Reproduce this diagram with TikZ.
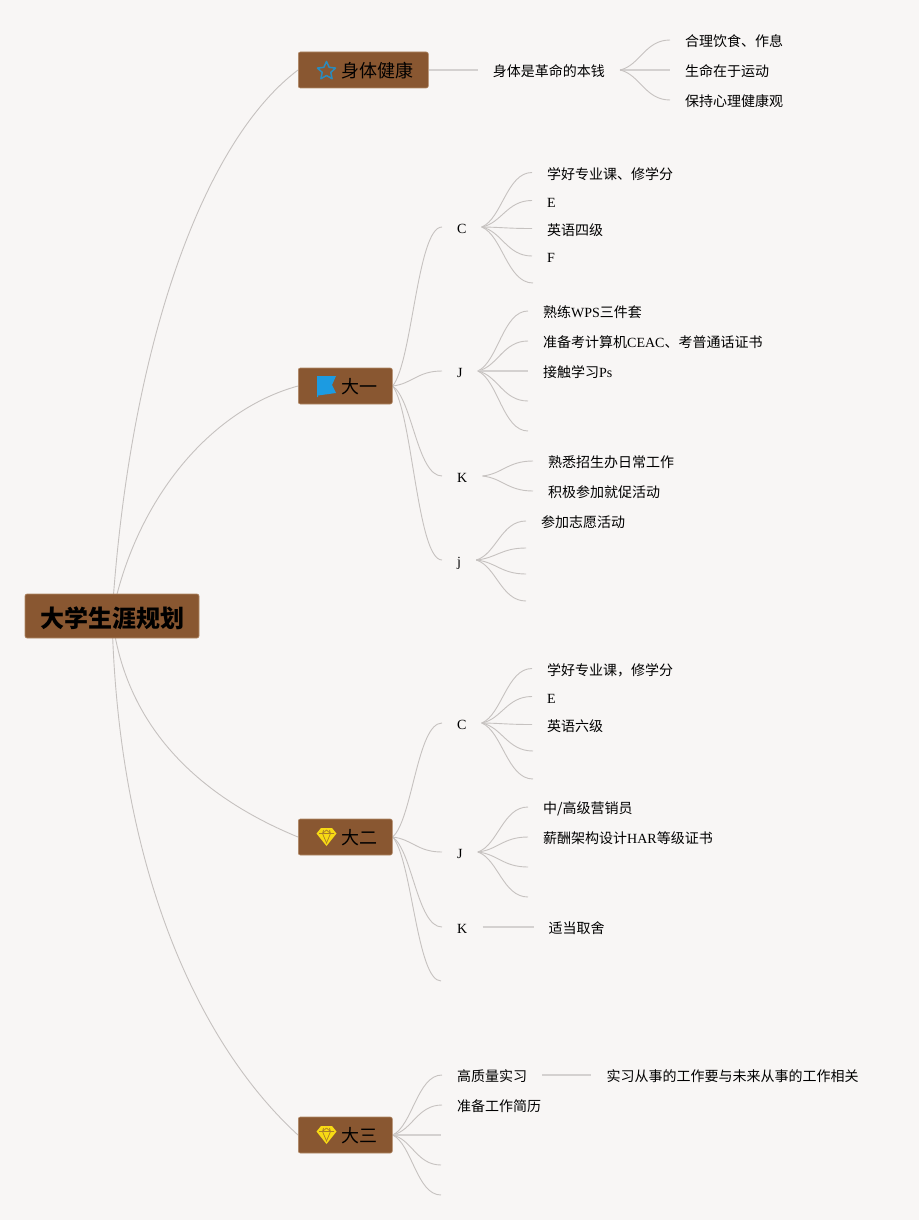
\documentclass[tikz,border=0pt]{standalone}
\usepackage{fontspec}
\setmainfont{Liberation Serif}
\newfontfamily\cjk{Noto Sans CJK SC}
\usetikzlibrary{shapes.geometric, positioning, calc, backgrounds}
\definecolor{pagebg}{RGB}{248,246,245}
\definecolor{boxbrown}{RGB}{137,87,49}
\definecolor{boxedge}{RGB}{176,136,102}
\definecolor{linkgray}{RGB}{198,194,192}
\definecolor{starblue}{RGB}{42,140,190}
\definecolor{flagblue}{RGB}{28,155,225}
\definecolor{gemyellow}{RGB}{247,218,20}
\tikzset{
  rootbox/.style={
    rectangle, rounded corners=2pt, draw=boxedge, fill=boxbrown, line width=0.6pt,
    minimum width=174pt, minimum height=44pt, inner sep=0pt,
    text height=24pt, text depth=2pt,
    font=\cjk\bfseries\fontsize{24}{28}\selectfont, text=black
  },
  topic/.style={
    rectangle, rounded corners=2pt, draw=boxedge, fill=boxbrown, line width=0.6pt,
    minimum height=36pt, inner xsep=15pt, inner ysep=0pt, anchor=west,
    text height=17.6pt, text depth=2pt,
    font=\cjk\fontsize{18}{22}\selectfont, text=black
  },
  leaf/.style={
    rectangle, inner xsep=15pt, inner ysep=0pt, anchor=west,
    text height=15pt, text depth=2pt,
    font=\fontsize{14}{16}\selectfont, text=black
  },
  link/.style={
    draw=linkgray, line width=0.9pt,
    to path={let \p1=(\tikztostart), \p2=(\tikztotarget) in
      .. controls ({0.6*\x1+0.4*\x2},{0.85*\y1+0.15*\y2}) and ({0.5*\x1+0.5*\x2},\y2) .. (\tikztotarget)}
  },
  straightlink/.style={draw=linkgray!75, line width=1.3pt},
  staricon/.style={
    star, star points=5, star point ratio=2.1, minimum size=19pt, inner sep=0pt,
    draw=starblue, line width=1.5pt, line join=round
  },
  flagicon/.pic={
    \fill[flagblue] (-9.5,-10) -- (9.5,-10) -- (5.5,-1) -- (9.5,7) -- (-8.5,9.5) -- (-8.5,11)
      -- (-9.5,11) -- cycle;
  },
  gemicon/.pic={
    \fill[gemyellow] (-5.5,-9) -- (5.5,-9) -- (10,-3.5) -- (0,9) -- (-10,-3.5) -- cycle;
    \draw[boxbrown!70!gemyellow, line width=0.7pt] (-7.5,-3.5) -- (7.5,-3.5)
      (-3,-7) -- (-4,-3.5) -- (0,6) -- (4,-3.5) -- (3,-7) (0,-7) -- (-4,-3.5) (0,-7) -- (4,-3.5);
  }
}
\begin{document}
\begin{tikzpicture}[x=1pt, y=-1pt]
  \path[use as bounding box] (0,0) rectangle (919,1220);

  \node[rootbox] (root) at (112,616) {大学生涯规划};

  \node[topic] (health) at (298,70) {\hspace{28pt}身体健康};
  \node[staricon] (healthicon) at (326.5,71) {};
  \node[leaf, right=49pt of health] (motto) {{\cjk 身体是革命的本钱}};
  \node[leaf, right=50pt of motto] (sport) {{\cjk 生命在于运动}};
  \node[leaf] (diet) at (670,40) {{\cjk 合理饮食、作息}};
  \node[leaf] (mind) at (670,100) {{\cjk 保持心理健康观}};

  \node[topic] (one) at (298,386) {\hspace{28pt}大一};
  \pic at (326.5,386) {flagicon};
  \node[leaf] (onec) at (442,227) {C};
  \node[leaf] (onecstudy) at (532,172.5) {{\cjk 学好专业课、修学分}};
  \node[leaf] (onece) at (532,200.5) {E};
  \node[leaf] (onecfour) at (532,228.5) {{\cjk 英语四级}};
  \node[leaf] (onecf) at (532,256) {F};
  \coordinate (onecend) at (533,283);
  \node[leaf] (onej) at (442,371) {J};
  \node[leaf] (onejwps) at (528,311) {{\cjk 熟练}WPS{\cjk 三件套}};
  \node[leaf] (onejceac) at (528,341) {{\cjk 准备考计算机}CEAC{\cjk 、考普通话证书}};
  \node[leaf] (onejps) at (528,371) {{\cjk 接触学习}Ps};
  \coordinate (onejfour) at (528,401);
  \coordinate (onejfive) at (528,431);
  \node[leaf] (onek) at (442,476) {K};
  \node[leaf] (onekwork) at (533,461) {{\cjk 熟悉招生办日常工作}};
  \node[leaf] (onekjob) at (533,491) {{\cjk 积极参加就促活动}};
  \node[leaf] (onesmall) at (442,560) {j};
  \node[leaf] (onesmallvol) at (526,521) {{\cjk 参加志愿活动}};
  \coordinate (onesmalltwo) at (526,548);
  \coordinate (onesmallthree) at (526,574);
  \coordinate (onesmallfour) at (526,601);

  \node[topic] (two) at (298,837) {\hspace{28pt}大二};
  \pic at (326.5,837) {gemicon};
  \node[leaf] (twoc) at (442,723) {C};
  \node[leaf] (twocstudy) at (532,668.5) {{\cjk 学好专业课，修学分}};
  \node[leaf] (twoce) at (532,696.5) {E};
  \node[leaf] (twocsix) at (532,724.5) {{\cjk 英语六级}};
  \coordinate (twocfour) at (533,751);
  \coordinate (twocfive) at (533,779);
  \node[leaf] (twoj) at (442,852) {J};
  \node[leaf] (twojsales) at (528,807) {{\cjk 中/高级营销员}};
  \node[leaf] (twojhar) at (528,837) {{\cjk 薪酬架构设计}HAR{\cjk 等级证书}};
  \coordinate (twojthree) at (528,867);
  \coordinate (twojfour) at (528,897);
  \node[leaf] (twok) at (442,927) {K};
  \node[leaf, right=51pt of twok] (twokdrop) {{\cjk 适当取舍}};
  \coordinate (twoend) at (441,981);

  \node[topic] (three) at (298,1135) {\hspace{28pt}大三};
  \pic at (326.5,1135) {gemicon};
  \node[leaf] (intern) at (442,1075) {{\cjk 高质量实习}};
  \node[leaf, right=49pt of intern] (internwork) {{\cjk 实习从事的工作要与未来从事的工作相关}};
  \node[leaf] (resume) at (442,1105) {{\cjk 准备工作简历}};
  \coordinate (threethree) at (441,1135);
  \coordinate (threefour) at (441,1165);
  \coordinate (threefive) at (441,1195);

  \begin{scope}[on background layer]
    \fill[pagebg] (0,0) rectangle (919,1220);

    \draw[link] (root.center) .. controls +(18,-276) and +(-93,70) .. (health.west);
    \draw[link] (root.center) .. controls +(23,-116) and +(-88,24) .. (one.west);
    \draw[link] (root.center) .. controls +(13,114) and +(-95,-39) .. (two.west);
    \draw[link] (root.center) .. controls +(6,264) and +(-93,-85) .. (three.west);

    \draw[straightlink] (health) -- (motto);
    \draw[straightlink] (motto) -- (sport);
    \draw[link] (motto.east) to (diet.west);
    \draw[link] (motto.east) to (mind.west);

    \draw[link] (one.east) to (onec.west);
    \draw[link] (one.east) to (onej.west);
    \draw[link] (one.east) to (onek.west);
    \draw[link] (one.east) to (onesmall.west);
    \draw[link] (onec.east) to (onecstudy.west);
    \draw[link] (onec.east) to (onece.west);
    \draw[link] (onec.east) to (onecfour.west);
    \draw[link] (onec.east) to (onecf.west);
    \draw[link] (onec.east) to (onecend);
    \draw[link] (onej.east) to (onejwps.west);
    \draw[link] (onej.east) to (onejceac.west);
    \draw[straightlink] (onej) -- (onejps);
    \draw[link] (onej.east) to (onejfour);
    \draw[link] (onej.east) to (onejfive);
    \draw[link] (onek.east) to (onekwork.west);
    \draw[link] (onek.east) to (onekjob.west);
    \draw[link] (onesmall.east) to (onesmallvol.west);
    \draw[link] (onesmall.east) to (onesmalltwo);
    \draw[link] (onesmall.east) to (onesmallthree);
    \draw[link] (onesmall.east) to (onesmallfour);

    \draw[link] (two.east) to (twoc.west);
    \draw[link] (two.east) to (twoj.west);
    \draw[link] (two.east) to (twok.west);
    \draw[link] (two.east) to (twoend);
    \draw[link] (twoc.east) to (twocstudy.west);
    \draw[link] (twoc.east) to (twoce.west);
    \draw[link] (twoc.east) to (twocsix.west);
    \draw[link] (twoc.east) to (twocfour);
    \draw[link] (twoc.east) to (twocfive);
    \draw[link] (twoj.east) to (twojsales.west);
    \draw[link] (twoj.east) to (twojhar.west);
    \draw[link] (twoj.east) to (twojthree);
    \draw[link] (twoj.east) to (twojfour);
    \draw[straightlink] (twok) -- (twokdrop);

    \draw[link] (three.east) to (intern.west);
    \draw[link] (three.east) to (resume.west);
    \draw[straightlink] (three) -- (threethree);
    \draw[link] (three.east) to (threefour);
    \draw[link] (three.east) to (threefive);
    \draw[straightlink] (intern) -- (internwork);
  \end{scope}
\end{tikzpicture}
\end{document}
